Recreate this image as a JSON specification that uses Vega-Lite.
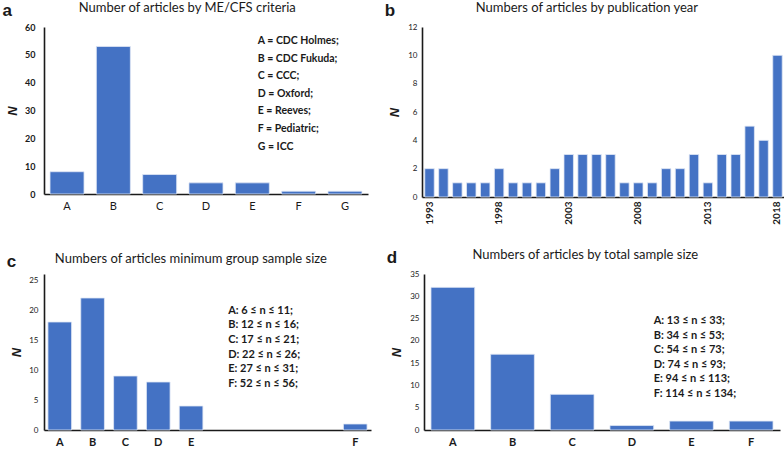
{
  "$schema": "https://vega.github.io/schema/vega-lite/v6.json",
  "padding": {"left": 2, "top": 2, "right": 2, "bottom": 2},
  "config": {
    "font": "Lato",
    "view": {"stroke": null},
    "axis": {"grid": false, "ticks": false, "domainColor": "#1a1a1a", "domainWidth": 1.6, "labelColor": "#1a1a1a", "titleColor": "#1a1a1a", "titleFontStyle": "italic", "titleFontWeight": "bold", "titleFontSize": 13, "titleFont": "Liberation Sans"},
    "title": {"font": "Lato", "fontWeight": "normal", "color": "#1a1a1a"},
    "bar": {"color": "#4472C4", "stroke": "#dfe7f5", "strokeWidth": 0.8}
  },
  "vconcat": [
    {
      "hconcat": [
        {
          "title": {"text": "a", "anchor": "start", "frame": "bounds", "fontSize": 17, "fontWeight": "bold", "font": "Liberation Sans", "dy": 18, "dx": -4, "offset": 0},
          "vconcat": [
            {
              "title": {"text": "Number of articles by ME/CFS criteria", "fontSize": 13, "anchor": "middle", "frame": "bounds", "offset": 8},
              "width": 324,
              "height": 167,
              "data": {"values": [
                {"criteria": "A", "N": 8},
                {"criteria": "B", "N": 53},
                {"criteria": "C", "N": 7},
                {"criteria": "D", "N": 4},
                {"criteria": "E", "N": 4},
                {"criteria": "F", "N": 1},
                {"criteria": "G", "N": 1}
              ]},
              "layer": [
                {
                  "mark": {"type": "bar"},
                  "encoding": {
                    "x": {"field": "criteria", "type": "nominal", "scale": {"paddingInner": 0.266, "paddingOuter": 0.13}, "axis": {"title": null, "labelAngle": 0, "labelFontSize": 11, "labelPadding": 6}},
                    "y": {"field": "N", "type": "quantitative", "scale": {"domain": [0, 60]}, "axis": {"values": [0, 10, 20, 30, 40, 50, 60], "tickCount": 7, "labelOverlap": false, "title": "N", "labelFontSize": 9, "labelFontWeight": "bold", "labelPadding": 9, "titlePadding": 5}}
                  }
                },
                {
                  "data": {"values": [{"note": "A = CDC Holmes;\nB = CDC Fukuda;\nC = CCC;\nD = Oxford;\nE = Reeves;\nF = Pediatric;\nG = ICC"}]},
                  "mark": {"type": "text", "align": "left", "baseline": "top", "lineBreak": "\n", "fontSize": 10.5, "fontWeight": "bold", "lineHeight": 17.6, "color": "#1a1a1a"},
                  "encoding": {
                    "text": {"field": "note"},
                    "x": {"datum": "E", "type": "nominal", "bandPosition": 0.66, "axis": {"title": null, "labelAngle": 0, "labelFontSize": 11, "labelPadding": 6}},
                    "y": {"datum": 56.8, "type": "quantitative", "axis": {"values": [0, 10, 20, 30, 40, 50, 60], "tickCount": 7, "labelOverlap": false, "title": "N", "labelFontSize": 9, "labelFontWeight": "bold", "labelPadding": 9, "titlePadding": 5}}
                  }
                }
              ]
            }
          ]
        },
        {
          "title": {"text": "b", "anchor": "start", "frame": "bounds", "fontSize": 17, "fontWeight": "bold", "font": "Liberation Sans", "dy": 18, "dx": -4, "offset": 0},
          "vconcat": [
            {
              "title": {"text": "Numbers of articles by publication year", "fontSize": 13, "anchor": "middle", "frame": "bounds", "offset": 8},
              "width": 363,
              "height": 170,
              "data": {"values": [
                {"year": 1993, "N": 2}, {"year": 1994, "N": 2}, {"year": 1995, "N": 1}, {"year": 1996, "N": 1},
                {"year": 1997, "N": 1}, {"year": 1998, "N": 2}, {"year": 1999, "N": 1}, {"year": 2000, "N": 1},
                {"year": 2001, "N": 1}, {"year": 2002, "N": 2}, {"year": 2003, "N": 3}, {"year": 2004, "N": 3},
                {"year": 2005, "N": 3}, {"year": 2006, "N": 3}, {"year": 2007, "N": 1}, {"year": 2008, "N": 1},
                {"year": 2009, "N": 1}, {"year": 2010, "N": 2}, {"year": 2011, "N": 2}, {"year": 2012, "N": 3},
                {"year": 2013, "N": 1}, {"year": 2014, "N": 3}, {"year": 2015, "N": 3}, {"year": 2016, "N": 5},
                {"year": 2017, "N": 4}, {"year": 2018, "N": 10}
              ]},
              "mark": {"type": "bar"},
              "encoding": {
                "x": {"field": "year", "type": "ordinal", "scale": {"paddingInner": 0.32, "paddingOuter": 0.2}, "axis": {"title": null, "values": [1993, 1998, 2003, 2008, 2013, 2018], "labelAngle": 270, "labelFontSize": 10, "labelFontWeight": "bold", "labelPadding": 4}},
                "y": {"field": "N", "type": "quantitative", "scale": {"domain": [0, 12]}, "axis": {"values": [0, 2, 4, 6, 8, 10, 12], "labelOverlap": false, "title": "N", "labelFontSize": 8, "labelPadding": 5, "titlePadding": 6}}
              }
            }
          ]
        }
      ],
      "spacing": 16
    },
    {
      "hconcat": [
        {
          "title": {"text": "c", "anchor": "start", "frame": "bounds", "fontSize": 17, "fontWeight": "bold", "font": "Liberation Sans", "dy": 18, "dx": -4, "offset": 0},
          "vconcat": [
            {
              "title": {"text": "Numbers of articles minimum group sample size", "fontSize": 13, "anchor": "middle", "frame": "bounds", "offset": 8},
              "width": 327,
              "height": 156,
              "data": {"values": [
                {"group": "A", "N": 18},
                {"group": "B", "N": 22},
                {"group": "C", "N": 9},
                {"group": "D", "N": 8},
                {"group": "E", "N": 4},
                {"group": "F", "N": 1}
              ]},
              "layer": [
                {
                  "mark": {"type": "bar"},
                  "encoding": {
                    "x": {"field": "group", "type": "nominal", "scale": {"domain": ["A", "B", "C", "D", "E", "s1", "s2", "s3", "s4", "F"], "paddingInner": 0.28, "paddingOuter": 0.12}, "axis": {"title": null, "values": ["A", "B", "C", "D", "E", "F"], "labelAngle": 0, "labelFontSize": 11, "labelFontWeight": "bold", "labelPadding": 6}},
                    "y": {"field": "N", "type": "quantitative", "scale": {"domain": [0, 25]}, "axis": {"values": [0, 5, 10, 15, 20, 25], "tickCount": 6, "labelOverlap": false, "title": "N", "labelFontSize": 8, "labelPadding": 6, "titlePadding": 5}}
                  }
                },
                {
                  "data": {"values": [{"note": "A: 6 ≤ n ≤ 11;\nB: 12 ≤ n ≤ 16;\nC: 17 ≤ n ≤ 21;\nD: 22 ≤ n ≤ 26;\nE: 27 ≤ n ≤ 31;\nF: 52 ≤ n ≤ 56;"}]},
                  "mark": {"type": "text", "align": "left", "baseline": "top", "lineBreak": "\n", "fontSize": 11, "fontWeight": "bold", "lineHeight": 14.7, "color": "#1a1a1a"},
                  "encoding": {
                    "text": {"field": "note"},
                    "x": {"datum": "s1", "type": "nominal", "bandPosition": 0.68, "axis": {"title": null, "values": ["A", "B", "C", "D", "E", "F"], "labelAngle": 0, "labelFontSize": 11, "labelFontWeight": "bold", "labelPadding": 6}},
                    "y": {"datum": 20.9, "type": "quantitative", "axis": {"values": [0, 5, 10, 15, 20, 25], "tickCount": 6, "labelOverlap": false, "title": "N", "labelFontSize": 8, "labelPadding": 6, "titlePadding": 5}}
                  }
                }
              ]
            }
          ]
        },
        {
          "title": {"text": "d", "anchor": "start", "frame": "bounds", "fontSize": 17, "fontWeight": "bold", "font": "Liberation Sans", "dy": 18, "dx": -4, "offset": 0},
          "vconcat": [
            {
              "title": {"text": "Numbers of articles by total sample size", "fontSize": 13, "anchor": "middle", "frame": "bounds", "offset": 8},
              "width": 356,
              "height": 156,
              "data": {"values": [
                {"group": "A", "N": 32},
                {"group": "B", "N": 17},
                {"group": "C", "N": 8},
                {"group": "D", "N": 1},
                {"group": "E", "N": 2},
                {"group": "F", "N": 2}
              ]},
              "layer": [
                {
                  "mark": {"type": "bar"},
                  "encoding": {
                    "x": {"field": "group", "type": "nominal", "scale": {"paddingInner": 0.267, "paddingOuter": 0.117}, "axis": {"title": null, "labelAngle": 0, "labelFontSize": 11, "labelFontWeight": "bold", "labelPadding": 6}},
                    "y": {"field": "N", "type": "quantitative", "scale": {"domain": [0, 35]}, "axis": {"values": [0, 5, 10, 15, 20, 25, 30, 35], "tickCount": 8, "labelOverlap": false, "title": "N", "labelFontSize": 8, "labelPadding": 5, "titlePadding": 6}}
                  }
                },
                {
                  "data": {"values": [{"note": "A: 13 ≤ n ≤ 33;\nB: 34 ≤ n ≤ 53;\nC: 54 ≤ n ≤ 73;\nD: 74 ≤ n ≤ 93;\nE: 94 ≤ n ≤ 113;\nF: 114 ≤ n ≤ 134;"}]},
                  "mark": {"type": "text", "align": "left", "baseline": "top", "lineBreak": "\n", "fontSize": 11, "fontWeight": "bold", "lineHeight": 14.6, "color": "#1a1a1a"},
                  "encoding": {
                    "text": {"field": "note"},
                    "x": {"datum": "D", "type": "nominal", "bandPosition": 1.0, "axis": {"title": null, "labelAngle": 0, "labelFontSize": 11, "labelFontWeight": "bold", "labelPadding": 6}},
                    "y": {"datum": 25.8, "type": "quantitative", "axis": {"values": [0, 5, 10, 15, 20, 25, 30, 35], "tickCount": 8, "labelOverlap": false, "title": "N", "labelFontSize": 8, "labelPadding": 5, "titlePadding": 6}}
                  }
                }
              ]
            }
          ]
        }
      ],
      "spacing": 15
    }
  ],
  "spacing": 24
}
